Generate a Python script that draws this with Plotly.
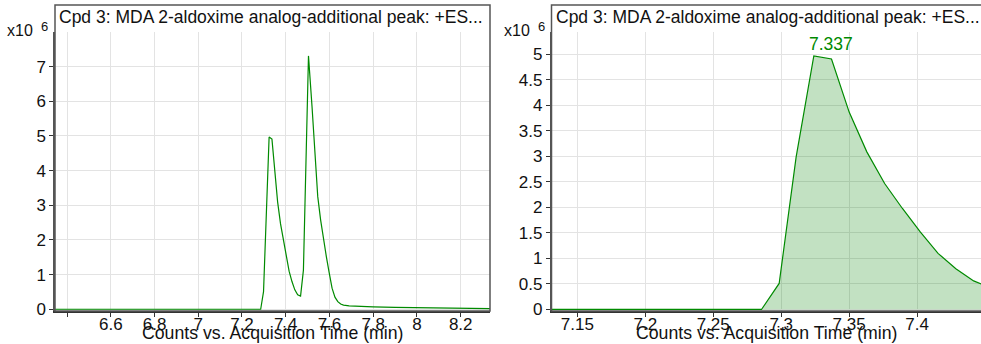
import plotly.graph_objects as go

# Extracted ion chromatogram: acquisition time (min) and counts
time_min = [6.345, 6.6, 6.8, 7.0, 7.2, 7.2725, 7.2855, 7.2985, 7.3110, 7.3240, 7.337,
            7.3500, 7.3630, 7.3761, 7.3892, 7.4023, 7.4154, 7.4285, 7.4416, 7.4547,
            7.4678, 7.4809, 7.4940, 7.5040, 7.5202, 7.5333, 7.5464, 7.5595, 7.5726,
            7.5857, 7.5988, 7.6119, 7.6250, 7.6381, 7.6512, 7.6643, 7.69, 7.75, 7.8,
            7.9, 8.0, 8.1, 8.2, 8.3, 8.334]
counts = [0, 0, 0, 0, 0, 0, 0, 510000, 2990000, 4970000, 4910000,
          3870000, 3090000, 2470000, 1980000, 1520000, 1100000, 800000, 560000, 420000,
          380000, 1130000, 5200000, 7310000, 5850000, 4400000, 3250000, 2580000, 2000000,
          1520000, 1050000, 610000, 350000, 220000, 150000, 120000, 100000, 80000, 70000,
          55000, 45000, 35000, 30000, 20000, 20000]

apex_time = 7.337
apex_label = "7.337"

left_xticks = [6.4, 6.6, 6.8, 7.0, 7.2, 7.4, 7.6, 7.8, 8.0, 8.2]
left_xtext = ["", "6.6", "6.8", "7", "7.2", "7.4", "7.6", "7.8", "8", "8.2"]
right_xticks = [7.15, 7.2, 7.25, 7.3, 7.35, 7.4]
right_xtext = ["7.15", "7.2", "7.25", "7.3", "7.35", "7.4"]
left_yticks = [0, 1, 2, 3, 4, 5, 6, 7]
right_yticks = [0, 0.5, 1, 1.5, 2, 2.5, 3, 3.5, 4, 4.5, 5]

title_text = "Cpd 3: MDA 2-aldoxime analog-additional peak: +ES..."
xaxis_text = "Counts vs. Acquisition Time (min)"
exp_base = "x10"
exp_power = "6"

W, H = 981, 344
FONT = "Liberation Sans, Arial, sans-serif"
GREEN = "#008a00"
INK = "#111"


def px(x):
    return x / W


def py(y):
    return 1 - y / H


scale = 1e6
y_e6 = [c / scale for c in counts]

fig = go.Figure()
fig.add_trace(go.Scatter(x=time_min, y=y_e6, mode="lines",
                         line=dict(color=GREEN, width=1.2),
                         xaxis="x", yaxis="y", hoverinfo="skip"))
fig.add_trace(go.Scatter(x=time_min, y=y_e6, mode="lines", fill="tozeroy",
                         fillcolor="rgba(0,128,0,0.24)",
                         line=dict(color=GREEN, width=1.2),
                         xaxis="x2", yaxis="y2", hoverinfo="skip"))

apex_val = y_e6[time_min.index(apex_time)]

# Panel frames (pixel coordinates)
left_box = (55, 490)
right_box = (551.5, 982)
top_frame, plot_top, plot_bottom = 5, 32, 311

axis_common = dict(
    showgrid=True, gridcolor="#e3e3e3", gridwidth=1, automargin=False,
    zeroline=False, ticks="outside", ticklen=4, tickcolor="#333",
    tickfont=dict(family=FONT, size=17, color=INK),
    showline=True, linecolor="#333", linewidth=2,
)
x_common = dict(axis_common, ticklabelstandoff=-7)

fig.update_layout(
    template="none",
    width=W, height=H,
    margin=dict(l=0, r=0, t=0, b=0, pad=0),
    paper_bgcolor="white", plot_bgcolor="white",
    showlegend=False,
    xaxis=dict(x_common, domain=[px(left_box[0]), px(left_box[1])],
               range=[6.345, 8.334], tickmode="array",
               tickvals=left_xticks, ticktext=left_xtext, anchor="y"),
    yaxis=dict(axis_common, domain=[py(plot_bottom), py(plot_top)],
               range=[-0.05, 8.0], tickmode="array", tickvals=left_yticks,
               anchor="x", linecolor="#555", linewidth=1.5),
    xaxis2=dict(x_common, domain=[px(right_box[0]), 1],
                range=[7.131, 7.447], tickmode="array",
                tickvals=right_xticks, ticktext=right_xtext, anchor="y2"),
    yaxis2=dict(axis_common, domain=[py(plot_bottom), py(plot_top)],
                range=[-0.03, 5.44], tickmode="array", tickvals=right_yticks,
                anchor="x2", linecolor="#555", linewidth=1.5),
)

shapes = []
for x0, x1 in (left_box, right_box):
    shapes.append(dict(type="rect", xref="paper", yref="paper",
                       x0=px(x0), x1=px(x1), y0=py(plot_bottom), y1=py(top_frame),
                       line=dict(color="#555", width=1.5), fillcolor="rgba(0,0,0,0)",
                       layer="above"))
fig.update_layout(shapes=shapes)


def text_ann(text, x, y, size, anchor="left", color=INK):
    return dict(text=text, xref="paper", yref="paper", x=px(x), y=py(y),
                xanchor=anchor, yanchor="middle", showarrow=False,
                borderpad=0, font=dict(family=FONT, size=size, color=color))


ann = []
for x0, x1 in (left_box, right_box):
    ann.append(text_ann(title_text, x0 + 3, 17.5, 17.5))
    ann.append(text_ann(xaxis_text, (x0 + min(x1, W)) / 2, 333, 17.7, "center"))
    ann.append(text_ann(exp_base, x0 - 21, 30, 16, "right"))
    ann.append(text_ann(exp_power, x0 - 6, 26, 13, "right"))

ann.append(dict(text=apex_label, x=apex_time, y=apex_val, xref="x2", yref="y2",
                yanchor="bottom", yshift=3, showarrow=False,
                font=dict(family=FONT, size=17.5, color=GREEN)))
fig.update_layout(annotations=ann)

fig.write_html("out.html")
